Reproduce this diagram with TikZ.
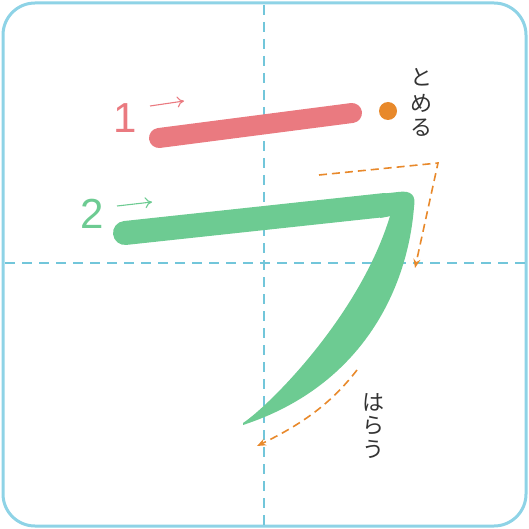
\documentclass[tikz,border=0pt]{standalone}
\usepackage{fontspec}
\setmainfont{Liberation Sans}
\newfontfamily\jpfont{Noto Sans CJK JP}
\usetikzlibrary{arrows.meta}
\definecolor{frameblue}{HTML}{8ED3E6}
\definecolor{guideblue}{HTML}{72C6DA}
\definecolor{strokered}{HTML}{EA7A80}
\definecolor{strokegreen}{HTML}{6DCB92}
\definecolor{hintorange}{HTML}{E8892B}
\definecolor{labelgray}{HTML}{333333}
\tikzset{
  guide/.style={guideblue, line width=1.4pt, dash pattern=on 10pt off 7pt},
  hint/.style={hintorange, line width=1.6pt, dash pattern=on 8pt off 5pt, -{Stealth[length=9pt,width=7pt]}},
  numlabel/.style={font=\fontsize{42}{42}\selectfont, inner sep=0pt},
  dirarrow/.style={line width=1.1pt, -{To[length=7pt,width=11pt]}},
  jp/.style={font=\jpfont\fontsize{22}{22}\selectfont, text=labelgray, inner sep=0pt}
}
\begin{document}
\begin{tikzpicture}[x=1pt,y=-1pt]
\useasboundingbox (0,0) rectangle (529,529);
% frame
\draw[frameblue, line width=3pt, rounded corners=32pt] (3,3) rectangle (526,526);
% guides
\draw[guide] (264,5) -- (264,525);
\draw[guide] (5,263) -- (525,263);
% stroke 1
\draw[strokered, line width=20pt, line cap=round] (159,138) -- (352,113);
% dot
\fill[hintorange] (388,111) circle (9);
% stroke 2
\draw[strokegreen, line width=24pt, line cap=round] (125,233) -- (385,205);
\fill[strokegreen] (380,194) -- (398,192)
  .. controls (412,190) and (416,196) .. (414,207)
  .. controls (408,285) and (365,385) .. (243,425)
  -- (243,423)
  .. controls (270,405) and (360,315) .. (390,216)
  -- (380,218) -- cycle;
% labels 1 and 2
\node[numlabel, text=strokered] (n1) at (125,118) {1};
\coordinate (a1s) at (150,106);
\coordinate (a1e) at (184,101);
\draw[dirarrow, strokered] (a1s) -- (a1e);
\node[numlabel, text=strokegreen] (n2) at (92,214) {2};
\coordinate (a2s) at (117,206);
\coordinate (a2e) at (152,202);
\draw[dirarrow, strokegreen] (a2s) -- (a2e);
% orange hint arrows
\coordinate (h1a) at (319,175);
\coordinate (h1b) at (438,163);
\coordinate (h1c) at (415,268);
\draw[hint] (h1a) -- (h1b) -- (h1c);
\coordinate (h2a) at (357,370);
\coordinate (h2b) at (257,446);
\draw[hint] (h2a) .. controls (330,405) and (300,425) .. (h2b);
% Japanese labels
\node[jp] (t1) at (421,77) {と};
\node[jp] (t2) at (421,103) {め};
\node[jp] (t3) at (421,128) {る};
\node[jp] (u1) at (373,402) {は};
\node[jp] (u2) at (373,426) {ら};
\node[jp] (u3) at (373,449) {う};
\end{tikzpicture}
\end{document}
